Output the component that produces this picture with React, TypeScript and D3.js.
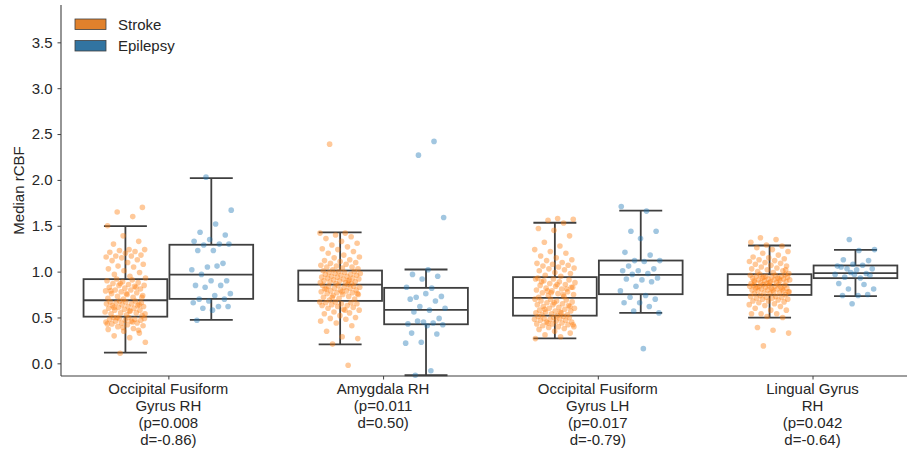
import { useRef, useEffect } from "react";
import * as d3 from "d3";

const categoryLines = [
  ["Occipital Fusiform", "Gyrus RH", "(p=0.008", "d=-0.86)"],
  ["Amygdala RH", "(p=0.011", "d=0.50)"],
  ["Occipital Fusiform", "Gyrus LH", "(p=0.017", "d=-0.79)"],
  ["Lingual Gyrus", "RH", "(p=0.042", "d=-0.64)"],
];

const groups = ["Stroke", "Epilepsy"];
const yTicks = [0, 0.5, 1, 1.5, 2, 2.5, 3, 3.5];

// [lower whisker, Q1, median, Q3, upper whisker]
const strokeBoxes = [
  [0.116, 0.509, 0.688, 0.918, 1.497],
  [0.207, 0.681, 0.859, 1.012, 1.427],
  [0.273, 0.52, 0.714, 0.94, 1.533],
  [0.498, 0.746, 0.856, 0.972, 1.285],
];
const epilepsyBoxes = [
  [0.473, 0.703, 0.968, 1.293, 2.02],
  [-0.13, 0.426, 0.583, 0.823, 1.023],
  [0.55, 0.754, 0.965, 1.121, 1.664],
  [0.732, 0.929, 0.983, 1.067, 1.238],
];

const strokeValues = [
  [
    0.11, 0.23, 0.28, 0.3, 0.33, 0.35, 0.37, 0.38, 0.4, 0.41, 0.42, 0.43, 0.44, 0.44, 0.45, 0.46, 0.46, 0.47, 0.47, 0.48,
    0.48, 0.49, 0.49, 0.5, 0.5, 0.36, 0.39, 0.43, 0.45, 0.5, 0.52, 0.53, 0.54, 0.55, 0.55, 0.56, 0.57, 0.58, 0.58, 0.59,
    0.6, 0.6, 0.61, 0.62, 0.62, 0.63, 0.63, 0.64, 0.65, 0.65, 0.66, 0.66, 0.67, 0.67, 0.68, 0.68, 0.54, 0.57, 0.61, 0.64,
    0.7, 0.71, 0.72, 0.73, 0.74, 0.75, 0.76, 0.77, 0.78, 0.79, 0.8, 0.8, 0.81, 0.82, 0.83, 0.84, 0.85, 0.85, 0.86, 0.87,
    0.88, 0.89, 0.9, 0.91, 0.92, 0.72, 0.76, 0.79, 0.83, 0.87, 0.93, 0.95, 0.97, 0.99, 1.01, 1.03, 1.05, 1.06, 1.08, 1.1,
    1.12, 1.13, 1.15, 1.16, 1.17, 1.17, 1.18, 1.2, 1.21, 1.22, 1.23, 1.24, 1.24, 1.3, 1.33, 1.39, 1.5, 1.6, 1.65, 1.7,
  ],
  [
    -0.02, 0.21, 0.27, 0.29, 0.35, 0.41, 0.44, 0.46, 0.48, 0.49, 0.5, 0.52, 0.54, 0.55, 0.56, 0.58, 0.59, 0.6, 0.61, 0.62,
    0.63, 0.63, 0.64, 0.65, 0.65, 0.66, 0.66, 0.67, 0.67, 0.58, 0.69, 0.7, 0.71, 0.72, 0.73, 0.74, 0.75, 0.75, 0.76, 0.77,
    0.77, 0.78, 0.79, 0.79, 0.8, 0.8, 0.81, 0.82, 0.82, 0.83, 0.83, 0.84, 0.84, 0.85, 0.85, 0.86, 0.72, 0.76, 0.78, 0.81,
    0.87, 0.87, 0.88, 0.88, 0.89, 0.89, 0.9, 0.9, 0.91, 0.91, 0.92, 0.92, 0.93, 0.93, 0.94, 0.94, 0.95, 0.95, 0.96, 0.96,
    0.97, 0.97, 0.98, 0.98, 0.99, 0.99, 1.0, 1.0, 1.01, 0.9, 1.02, 1.03, 1.04, 1.05, 1.05, 1.06, 1.07, 1.08, 1.09, 1.1,
    1.11, 1.12, 1.13, 1.15, 1.16, 1.18, 1.2, 1.22, 1.24, 1.25, 1.27, 1.29, 1.31, 1.33, 1.36, 1.38, 1.4, 1.42, 1.42, 2.39,
  ],
  [
    0.27, 0.29, 0.31, 0.33, 0.35, 0.37, 0.38, 0.39, 0.4, 0.4, 0.41, 0.42, 0.43, 0.43, 0.44, 0.45, 0.45, 0.46, 0.47, 0.47,
    0.48, 0.48, 0.49, 0.49, 0.5, 0.5, 0.51, 0.51, 0.44, 0.42, 0.52, 0.53, 0.53, 0.54, 0.55, 0.55, 0.56, 0.57, 0.57, 0.58,
    0.59, 0.6, 0.6, 0.61, 0.62, 0.63, 0.64, 0.64, 0.65, 0.66, 0.67, 0.68, 0.68, 0.69, 0.7, 0.7, 0.56, 0.59, 0.62, 0.66,
    0.72, 0.73, 0.74, 0.75, 0.76, 0.77, 0.78, 0.79, 0.8, 0.81, 0.82, 0.83, 0.84, 0.85, 0.86, 0.87, 0.88, 0.89, 0.9, 0.91,
    0.92, 0.93, 0.75, 0.79, 0.83, 0.86, 0.89, 0.81, 0.77, 0.92, 0.95, 0.96, 0.98, 0.99, 1.01, 1.02, 1.03, 1.04, 1.05, 1.06,
    1.07, 1.08, 1.09, 1.1, 1.12, 1.13, 1.15, 1.17, 1.2, 1.22, 1.24, 1.28, 1.32, 1.39, 1.45, 1.47, 1.53, 1.56, 1.57, 1.58,
  ],
  [
    0.19, 0.33, 0.36, 0.39, 0.5, 0.51, 0.54, 0.54, 0.54, 0.58, 0.58, 0.6, 0.62, 0.63, 0.64, 0.65, 0.66, 0.67, 0.68, 0.68,
    0.69, 0.7, 0.7, 0.71, 0.71, 0.72, 0.72, 0.73, 0.73, 0.74, 0.75, 0.76, 0.76, 0.77, 0.77, 0.78, 0.78, 0.79, 0.79, 0.8,
    0.8, 0.81, 0.81, 0.82, 0.82, 0.82, 0.83, 0.83, 0.84, 0.84, 0.84, 0.85, 0.85, 0.85, 0.86, 0.86, 0.78, 0.8, 0.83, 0.81,
    0.87, 0.87, 0.88, 0.88, 0.89, 0.89, 0.89, 0.9, 0.9, 0.91, 0.91, 0.91, 0.92, 0.92, 0.93, 0.93, 0.93, 0.94, 0.94, 0.95,
    0.95, 0.95, 0.96, 0.96, 0.97, 0.97, 0.88, 0.9, 0.92, 0.94, 0.98, 0.99, 1.0, 1.01, 1.02, 1.03, 1.04, 1.05, 1.06, 1.07,
    1.08, 1.09, 1.1, 1.11, 1.12, 1.13, 1.14, 1.15, 1.16, 1.18, 1.2, 1.22, 1.24, 1.26, 1.28, 1.29, 1.32, 1.35, 1.37, 1.02,
  ],
];

const epilepsyValues = [
  [
    2.03, 1.67, 1.52, 1.43, 1.4, 1.35, 1.33, 1.3, 1.29, 1.3, 1.23, 1.23, 1.09, 1.05, 1.02, 1.06, 0.97, 0.9, 0.9, 0.85,
    0.85, 0.83, 0.76, 0.74, 0.7, 0.7, 0.68, 0.66, 0.62, 0.6, 0.62, 0.58, 0.47,
  ],
  [
    2.42, 2.27, 1.59, 1.02, 0.97, 0.95, 0.92, 0.83, 0.82, 0.72, 0.73, 0.76, 0.7, 0.68, 0.62, 0.6, 0.58, 0.56, 0.49, 0.45,
    0.43, 0.44, 0.46, 0.42, 0.41, 0.33, 0.32, 0.23, 0.22, -0.08, -0.13,
  ],
  [
    1.71, 1.66, 1.44, 1.44, 1.36, 1.21, 1.18, 1.12, 1.12, 1.11, 1.06, 1.03, 1.01, 1.01, 0.98, 0.97, 0.93, 0.91, 0.92,
    0.89, 0.84, 0.79, 0.74, 0.72, 0.7, 0.66, 0.66, 0.62, 0.57, 0.55, 0.16,
  ],
  [
    1.35, 1.24, 1.23, 1.13, 1.12, 1.08, 1.06, 1.07, 1.03, 1.03, 1.02, 1.05, 0.98, 0.99, 0.97, 0.93, 0.94, 0.96, 0.97,
    0.87, 0.86, 0.81, 0.81, 0.74, 0.74, 0.75, 0.65,
  ],
];

const boxColors = ["#e1812c", "#3274a1"];
const dotColors = ["#ff7f0e", "#1f77b4"];
const LINE = "#3f3f3f";
const TEXT = "#262626";
const FONT = "'Liberation Sans', Arial, sans-serif";

const width = 910;
const height = 454;

// evenly spread jitter in [-0.5, 0.5) from the point index
const jitter = (i) => ((i * 0.6180339887 + 0.37) % 1) - 0.5;

const App = () => {
  const svgRef = useRef();

  useEffect(() => {
    document.body.style.margin = "0";
    const svg = d3.select(svgRef.current);
    svg.selectAll("*").remove();

    const xScale = d3.scaleLinear().domain([-0.5, 3.44]).range([61, 907]);
    const yScale = d3.scaleLinear().domain([-0.138, 3.907]).range([376, 5]);
    const unit = xScale(1) - xScale(0);

    const offset = [-0.2, 0.2];
    const boxHalf = 0.195 * unit;
    const capHalf = 0.1 * unit;

    const g = svg.append("g");

    // boxes
    [strokeBoxes, epilepsyBoxes].forEach((boxes, h) => {
      boxes.forEach((b, i) => {
        const cx = xScale(i + offset[h]);
        const [lo, q1, med, q3, hi] = b;
        const bg = g.append("g").attr("stroke", LINE).attr("stroke-width", 1.8).attr("fill", "none");
        bg.append("rect")
          .attr("x", cx - boxHalf)
          .attr("y", yScale(q3))
          .attr("width", boxHalf * 2)
          .attr("height", yScale(q1) - yScale(q3));
        bg.append("line")
          .attr("x1", cx - boxHalf)
          .attr("x2", cx + boxHalf)
          .attr("y1", yScale(med))
          .attr("y2", yScale(med));
        bg.append("line").attr("x1", cx).attr("x2", cx).attr("y1", yScale(q3)).attr("y2", yScale(hi));
        bg.append("line").attr("x1", cx).attr("x2", cx).attr("y1", yScale(q1)).attr("y2", yScale(lo));
        [lo, hi].forEach((v) => {
          bg.append("line")
            .attr("x1", cx - capHalf)
            .attr("x2", cx + capHalf)
            .attr("y1", yScale(v))
            .attr("y2", yScale(v));
        });
      });
    });

    // jittered points
    [strokeValues, epilepsyValues].forEach((sets, h) => {
      sets.forEach((vals, i) => {
        g.append("g")
          .selectAll("circle")
          .data(vals)
          .enter()
          .append("circle")
          .attr("cx", (d, k) => xScale(i + offset[h] + jitter(k + i * 7) * 0.19))
          .attr("cy", (d) => yScale(d))
          .attr("r", 2.8)
          .attr("fill", dotColors[h])
          .attr("fill-opacity", 0.42);
      });
    });

    // axes
    const yAxis = g
      .append("g")
      .attr("transform", `translate(${xScale(-0.5)},0)`)
      .call(d3.axisLeft(yScale).tickValues(yTicks).tickFormat(d3.format(".1f")).tickSize(3.5).tickPadding(5));
    yAxis.select(".domain").attr("stroke", LINE).attr("stroke-width", 1.1).attr("d", `M0,${yScale.range()[1]}V${yScale.range()[0]}`);
    yAxis.selectAll(".tick line").attr("stroke", LINE);
    yAxis.selectAll("text").style("font-family", FONT).style("font-size", "15px").attr("fill", TEXT);

    const xAxis = g
      .append("g")
      .attr("transform", `translate(0,${yScale.range()[0]})`)
      .call(d3.axisBottom(xScale).tickValues([0, 1, 2, 3]).tickFormat("").tickSize(3.5));
    xAxis.select(".domain").attr("stroke", LINE).attr("stroke-width", 1.1).attr("d", `M${xScale.range()[0]},0H${xScale.range()[1]}`);
    xAxis.selectAll(".tick line").attr("stroke", LINE);

    categoryLines.forEach((lines, i) => {
      const t = g
        .append("text")
        .attr("x", xScale(i))
        .attr("y", 394)
        .attr("text-anchor", "middle")
        .style("font-family", FONT)
        .style("font-size", "15px")
        .attr("fill", TEXT);
      lines.forEach((ln, k) => {
        t.append("tspan").attr("x", xScale(i)).attr("y", 394 + k * 17).text(ln);
      });
    });

    g.append("text")
      .attr("transform", `translate(24,${(yScale.range()[0] + yScale.range()[1]) / 2}) rotate(-90)`)
      .attr("text-anchor", "middle")
      .style("font-family", FONT)
      .style("font-size", "15px")
      .attr("fill", TEXT)
      .text("Median rCBF");

    // legend
    const legend = g.append("g").attr("transform", "translate(75,19)");
    groups.forEach((name, h) => {
      const row = legend.append("g").attr("transform", `translate(0,${h * 21.5})`);
      row.append("rect")
        .attr("width", 31)
        .attr("height", 10.5)
        .attr("fill", boxColors[h])
        .attr("stroke", LINE)
        .attr("stroke-width", 0.8);
      row.append("text")
        .attr("x", 43)
        .attr("y", 10.5)
        .style("font-family", FONT)
        .style("font-size", "15px")
        .attr("fill", TEXT)
        .text(name);
    });
  }, []);

  return <svg ref={svgRef} width={width} height={height} style={{ display: "block" }}></svg>;
};

export default App;
